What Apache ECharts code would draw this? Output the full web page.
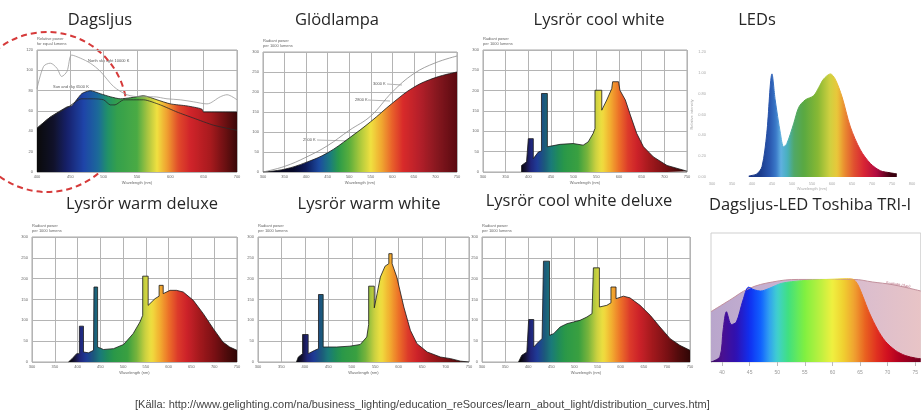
<!DOCTYPE html>
<html>
<head>
<meta charset="utf-8">
<script src="https://cdn.jsdelivr.net/npm/echarts@6/dist/echarts.min.js"></script>
<style>
html, body { margin: 0; padding: 0; background: #fff; }
#main { width: 921px; height: 412px; }
</style>
</head>
<body>
<div id="main"></div>
<script>
// Dagsljus (relativ effekt)
var dayWl  = [400,420,445,452,467,480,495,510,525,540,560,580,600,625,647,650,700];
var dayPow = [43,54,64,65,77,80,77,74,72,73,75,71,67,65,62,59,59];
var skyWl  = [400,410,420,430,437,445,452,465,480,495,515,535,555,575,595,615,635,655,675,685,700];
var skyPow = [82,104,107,102,94,99,115,112,107,99,84,76,74,74,72,71,69,67,74,76,71];
var sunWl  = [400,420,445,467,485,500,510,517,530,560,585,610,635,665,700];
var sunPow = [43,54,63,72,72,71,66,66,71,71,66,59,53,46,41];

// Glödlampa
var incWl    = [300,350,400,450,500,550,600,650,700,750];
var incPow   = [0,7,24,48,85,126,172,212,236,250];
var incHiPow = [0,14,37,66,104,140,200,246,273,290];

// Lysrör cool white
var cwWl  = [385,385,396,400,400,411,411,422,429,429,442,442,470,499,521,532,543,547,547,562,562,573,584,586,586,599,602,614,625,639,654,676,706,750];
var cwPow = [0,16,25,25,82,82,33,49,52,193,193,62,68,70,66,74,95,107,201,201,152,177,205,207,222,222,201,177,140,95,62,37,16,2];

// LEDs
var ledWl  = [392,412,425,437,450,458,471,479,487,504,517,533,554,567,579,596,608,625,646,671,696,721,746,762];
var ledPow = [0.01,0.03,0.1,0.42,0.99,0.74,0.42,0.29,0.32,0.51,0.67,0.74,0.78,0.86,0.94,0.99,0.94,0.77,0.48,0.26,0.13,0.06,0.04,0.03];

// Lysrör warm deluxe
var wdWl  = [380,388,398,404,404,413,413,424,435,436,444,444,457,479,501,522,537,543,543,555,555,570,579,579,588,588,603,617,632,654,676,698,719,734,750];
var wdPow = [0,8,20,20,86,86,24,22,28,180,180,36,30,32,42,68,96,112,206,206,136,152,158,184,184,164,172,172,168,148,116,80,48,36,28];

// Lysrör warm white
var wwWl  = [382,386,395,395,407,407,421,429,429,439,439,468,496,518,532,536,536,548,548,554,561,571,579,579,586,586,589,596,611,625,639,661,689,711,732,750];
var wwPow = [0,12,20,66,66,20,28,32,162,162,36,36,38,42,60,90,182,182,130,164,204,230,236,260,260,236,232,204,132,76,44,24,12,8,2,0];

// Lysrör cool white deluxe
var cdWl  = [379,386,397,401,401,412,412,422,430,433,433,446,446,455,469,484,498,512,527,538,541,541,554,554,570,579,579,590,590,606,620,642,664,685,707,728,750];
var cdPow = [0,16,24,26,102,102,36,48,56,58,242,242,64,68,84,92,96,100,108,116,118,226,226,132,136,142,180,180,152,158,154,136,112,84,56,40,28];

// Dagsljus-LED Toshiba TRI-I (våglängd i 10 nm)
var dlWl   = [38,41.4,44.9,49.1,53.8,59.1,63.8,67.3,70.8,75.1,76];
var dlPow  = [39,48,57,62,64,64,64,62,60,56,55];
var triWl  = [38,39.6,40.2,40.8,41.7,42.6,43.8,44.8,45.8,47,48.5,50.8,54.4,59.1,62.6,63.8,64.6,65.5,66.7,68.2,69.6,71.4,73.2,75.1,76];
var triPow = [0,4,25,39,29,31,48,58,56,55,57,61,63,64,64.5,64,60,51,38,25,16,9,5,3,2.5];
var triTicks = [40,45,50,55,60,65,70,75];

var titles = ['Dagsljus', 'Glödlampa', 'Lysrör cool white', 'LEDs',
              'Lysrör warm deluxe', 'Lysrör warm white', 'Lysrör cool white deluxe', 'Dagsljus-LED Toshiba TRI-I'];
var source = '[Källa: http://www.gelighting.com/na/business_lighting/education_reSources/learn_about_light/distribution_curves.htm]';

(function(){
    function pairs(xs, ys){
        return xs.map(function(x, i){ return [x, ys[i]]; });
    }

    function rgb(h){
        return [parseInt(h.slice(1,3),16), parseInt(h.slice(3,5),16), parseInt(h.slice(5,7),16)];
    }

    // färgskala längs våglängden
    function spectrum(stops, lo, hi){
        var out = [], n = 90;
        for (var k = 0; k <= n; k++){
            var w = lo + (hi - lo) * k / n;
            var c;
            if (w <= stops[0][0]) c = rgb(stops[0][1]);
            else if (w >= stops[stops.length-1][0]) c = rgb(stops[stops.length-1][1]);
            else {
                for (var j = 1; j < stops.length; j++){
                    if (w <= stops[j][0]){
                        var a = rgb(stops[j-1][1]), b = rgb(stops[j][1]);
                        var t = (w - stops[j-1][0]) / (stops[j][0] - stops[j-1][0]);
                        c = [0,1,2].map(function(q){ return Math.round(a[q] + (b[q]-a[q]) * t); });
                        break;
                    }
                }
            }
            out.push('rgb(' + c.join(',') + ')');
        }
        return out;
    }

    var geStops = [[380,'#000000'],[395,'#16143a'],[405,'#20247a'],[420,'#1e3c96'],[436,'#1c5a7a'],[450,'#1a7a7a'],
                   [465,'#1f8a5a'],[480,'#2a9848'],[510,'#3aa040'],[530,'#78b43c'],[548,'#c8d040'],[562,'#f0e040'],
                   [580,'#f2b030'],[600,'#ec7028'],[620,'#dc3a2a'],[640,'#cc2229'],[670,'#a0181c'],[700,'#7a1014'],
                   [730,'#4a0a0a'],[750,'#300606']];
    var dayStops = [[400,'#0a0a0a'],[425,'#10122a'],[445,'#16206a'],[470,'#1e44a8'],[492,'#1c6a9a'],[505,'#20906a'],
                    [520,'#34a04c'],[550,'#4aaa44'],[568,'#b4c840'],[580,'#f0e040'],[595,'#f0a030'],[612,'#e04a2a'],
                    [630,'#d0242a'],[660,'#a81a1e'],[700,'#3a0808']];
    var incStops = [[300,'#000010'],[370,'#060828'],[400,'#0c1a5a'],[430,'#1c4aa0'],[455,'#1a7a80'],[475,'#2a9a4a'],
                    [500,'#5aae3c'],[525,'#aac83c'],[550,'#f0e040'],[575,'#f0a830'],[600,'#e8602a'],[625,'#d82a2a'],
                    [660,'#b8202a'],[700,'#8a1820'],[750,'#5a0a10']];
    var ledStops = [[300,'#1a2a80'],[420,'#1a3a8a'],[445,'#2a58b0'],[460,'#3a78c8'],[472,'#60b0e0'],[488,'#48b0c0'],
                    [505,'#50a868'],[530,'#5aa840'],[565,'#88b834'],[595,'#d0d040'],[613,'#eac83a'],[630,'#ea9030'],
                    [655,'#e05030'],[680,'#d82434'],[712,'#b00a40'],[746,'#400010'],[800,'#200008']];
    var triStops = [[38,'#3a0a60'],[40,'#4a1090'],[42.5,'#3010b0'],[45,'#1030f0'],[47,'#1060ff'],[48.5,'#30a0f0'],
                    [50,'#40d0d0'],[52,'#40e080'],[55,'#80f040'],[58,'#c0f040'],[60,'#f0f040'],[62,'#f0d030'],
                    [64,'#f0a030'],[66,'#e86020'],[68,'#e03020'],[70,'#d01020'],[72,'#b00020'],[76,'#700020']];

    function vm(seriesIndex, stops, lo, hi){
        return {show: false, type: 'continuous', seriesIndex: seriesIndex, dimension: 0,
                min: lo, max: hi, inRange: {color: spectrum(stops, lo, hi)}};
    }

    var tiny = {fontSize: 4, color: '#666', fontFamily: 'Liberation Sans'};

    function geX(gi, min, max){
        return {type: 'value', gridIndex: gi, min: min, max: max, interval: 50,
                axisLine: {show: false}, axisTick: {show: false},
                splitLine: {lineStyle: {color: '#b4b4b4', width: 1}},
                axisLabel: Object.assign({margin: 3}, tiny),
                name: 'Wavelength (nm)', nameLocation: 'middle', nameGap: 9, nameTextStyle: tiny};
    }
    function geY(gi, max, interval, name){
        return {type: 'value', gridIndex: gi, min: 0, max: max, interval: interval,
                axisLine: {show: false}, axisTick: {show: false},
                splitLine: {lineStyle: {color: '#b4b4b4', width: 1}},
                axisLabel: Object.assign({margin: 4}, tiny),
                name: name, nameLocation: 'end', nameGap: 4,
                nameTextStyle: Object.assign({align: 'left', lineHeight: 5}, tiny)};
    }
    function fill(gi, data, smooth, stroke){
        return {type: 'line', xAxisIndex: gi, yAxisIndex: gi, data: data, smooth: smooth,
                showSymbol: false, symbol: 'none', silent: true,
                lineStyle: stroke ? {color: stroke, width: 0.8} : {width: 1},
                areaStyle: {opacity: 1}};
    }
    function line(gi, data, color, smooth){
        return {type: 'line', xAxisIndex: gi, yAxisIndex: gi, data: data, smooth: smooth,
                showSymbol: false, symbol: 'none', silent: true,
                lineStyle: {color: color, width: 0.8}};
    }

    var frame = {show: true, borderColor: '#a8a8a8', borderWidth: 1, backgroundColor: 'transparent'};
    var grids = [
        Object.assign({left: 37, top: 50, width: 200, height: 122}, frame),
        Object.assign({left: 263, top: 52, width: 194, height: 120}, frame),
        Object.assign({left: 483, top: 50, width: 204, height: 122}, frame),
        {left: 712, top: 52, width: 200, height: 125},
        Object.assign({left: 32, top: 237, width: 205, height: 125}, frame),
        Object.assign({left: 258, top: 237, width: 211, height: 125}, frame),
        Object.assign({left: 482, top: 237, width: 208, height: 125}, frame),
        {left: 711, top: 233, width: 215, height: 129, show: true, borderColor: '#cfcfcf', borderWidth: 1}
    ];

    var rp = 'Radiant power\nper 1000 lumens';
    var xAxes = [
        geX(0, 400, 700), geX(1, 300, 750), geX(2, 300, 750),
        {type: 'value', gridIndex: 3, min: 300, max: 800, interval: 50,
         axisLine: {show: false}, axisTick: {show: false}, splitLine: {show: false},
         axisLabel: {fontSize: 4, color: '#aaa', margin: 5},
         name: 'Wavelength (nm)', nameLocation: 'middle', nameGap: 10, nameTextStyle: {fontSize: 4, color: '#aaa'}},
        geX(4, 300, 750), geX(5, 300, 750), geX(6, 300, 750),
        {type: 'value', gridIndex: 7, min: 38, max: 76,
         axisLine: {show: false}, splitLine: {show: false},
         axisTick: {show: true, customValues: triTicks, length: 4, lineStyle: {color: '#bbb'}},
         axisLabel: {customValues: triTicks, fontSize: 5, color: '#999', margin: 8}}
    ];
    var yAxes = [
        geY(0, 120, 20, 'Relative power\nfor equal lumens'), geY(1, 300, 50, rp), geY(2, 300, 50, rp),
        {type: 'value', gridIndex: 3, min: 0, max: 1.2, interval: 0.2,
         axisLine: {show: false}, axisTick: {show: false}, splitLine: {show: false},
         axisLabel: {fontSize: 4, color: '#aaa', margin: 6, formatter: function(v){ return v.toFixed(2); }},
         name: 'Relative intensity', nameLocation: 'middle', nameGap: 15, nameRotate: 90,
         nameTextStyle: {fontSize: 4, color: '#aaa'}},
        geY(4, 300, 50, rp), geY(5, 300, 50, rp), geY(6, 300, 50, rp),
        {type: 'value', gridIndex: 7, min: 0, max: 100, show: false}
    ];

    var series = [
        fill(0, pairs(dayWl, dayPow), 0.2, '#1a1a1a'),
        line(0, pairs(sunWl, sunPow), '#2a2a2a', 0.2),
        line(0, pairs(skyWl, skyPow), '#9a9a9a', 0.3),
        fill(1, pairs(incWl, incPow), 0.4, '#1a1a1a'),
        line(1, pairs(incWl, incHiPow), '#8a8a8a', 0.4),
        fill(2, pairs(cwWl, cwPow), false, '#1a1a1a'),
        fill(3, pairs(ledWl, ledPow), 0.3, null),
        fill(4, pairs(wdWl, wdPow), false, '#1a1a1a'),
        fill(5, pairs(wwWl, wwPow), false, '#1a1a1a'),
        fill(6, pairs(cdWl, cdPow), false, '#1a1a1a'),
        {type: 'line', xAxisIndex: 7, yAxisIndex: 7, data: pairs(dlWl, dlPow), smooth: 0.4,
         showSymbol: false, symbol: 'none', silent: true,
         lineStyle: {color: '#c2909c', width: 1},
         areaStyle: {opacity: 1, color: new echarts.graphic.LinearGradient(0, 0, 1, 0, [
             {offset: 0, color: '#b9a6cc'}, {offset: 0.5, color: '#d0b8d4'}, {offset: 1, color: '#e8c4c6'}])}},
        fill(7, pairs(triWl, triPow), 0.3, null)
    ];

    var visualMaps = [
        vm(0, dayStops, 400, 700), vm(3, incStops, 300, 750), vm(5, geStops, 300, 750),
        vm(6, ledStops, 300, 800), vm(7, geStops, 300, 750), vm(8, geStops, 300, 750),
        vm(9, geStops, 300, 750), vm(11, triStops, 38, 76)
    ];

    var titlePos = [[100,20],[337,20],[599,20],[757,20],[142,204],[369,204],[579,201],[810,205]];
    var graphic = titles.map(function(t, i){
        return {type: 'text', x: titlePos[i][0], y: titlePos[i][1], silent: true,
                style: {text: t, fill: '#262626', font: '16.5px "Open Sans"', textAlign: 'center', textVerticalAlign: 'middle'}};
    });
    function note(text, x, y, color, rot){
        return {type: 'text', x: x, y: y, rotation: rot || 0, silent: true,
                style: {text: text, fill: color || '#555', font: '4px "Liberation Sans"', textVerticalAlign: 'middle'}};
    }
    function lead(x1, y1, x2, y2){
        return {type: 'line', silent: true, shape: {x1: x1, y1: y1, x2: x2, y2: y2},
                style: {stroke: '#666', lineWidth: 0.5}};
    }
    graphic.push(
        note('North sky light 10000 K', 88, 61), note('Sun and sky 6500 K', 53, 87),
        note('3000 K', 373, 84), lead(387, 84, 402, 85),
        note('2800 K', 355, 100), lead(368, 100, 390, 101),
        note('2500 K', 303, 140), lead(317, 140, 352, 141),
        note('Sunlight (day)', 886, 283, '#b05a70', -0.15),
        note('Sunlight TRI-I', 803, 340, '#6a5a20'),
        {type: 'circle', silent: true, shape: {cx: 47, cy: 112, r: 80},
         style: {fill: 'none', stroke: '#d63a3a', lineWidth: 2, lineDash: [6, 4]}},
        {type: 'text', x: 135, y: 405, silent: true,
         style: {text: source, fill: '#444', font: '11px "Liberation Sans"', textVerticalAlign: 'middle'}}
    );

    var myChart = echarts.init(document.getElementById('main'));
    myChart.setOption({
        animation: false,
        backgroundColor: '#fff',
        grid: grids,
        xAxis: xAxes,
        yAxis: yAxes,
        visualMap: visualMaps,
        series: series,
        graphic: graphic
    });
}());
</script>
</body>
</html>
